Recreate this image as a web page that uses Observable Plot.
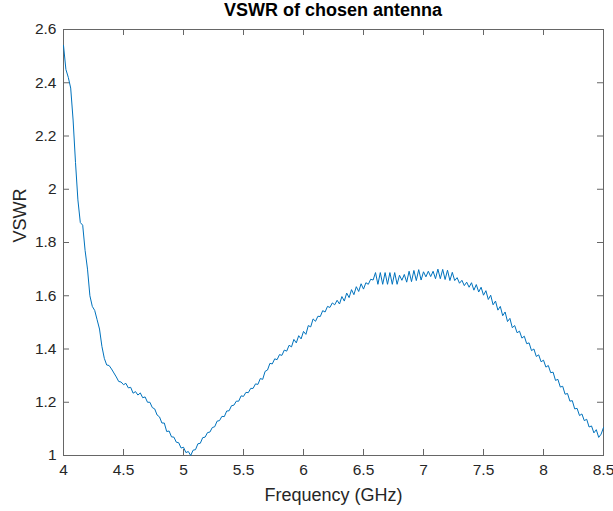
<!DOCTYPE html>
<html>
<head>
<meta charset="utf-8">
<script src="https://cdn.jsdelivr.net/npm/d3@7"></script>
<script src="https://cdn.jsdelivr.net/npm/@observablehq/plot@0.6"></script>
<style>
  body { margin: 0; background: #fff; }
  #wrap { position: relative; width: 613px; height: 511px; }
  #title { position: absolute; left: 0; top: 0; width: 613px; height: 26px; line-height: 26px; font: bold 18px "Liberation Sans", Arial, sans-serif; color: #000; text-align: center; box-sizing: border-box; padding-left: 53px; white-space: nowrap; z-index: 2; }
  #chart svg { display: block; }
</style>
</head>
<body>
<div id="wrap">
<div id="title"></div>
<div id="chart"></div>
</div>
<script>
const titleText = "VSWR of chosen antenna";
const xLabel = "Frequency (GHz)";
const yLabel = "VSWR";
const xTicks = [4, 4.5, 5, 5.5, 6, 6.5, 7, 7.5, 8, 8.5];
const yTicks = [1, 1.2, 1.4, 1.6, 1.8, 2, 2.2, 2.4, 2.6];
const freqStart = 4.0;
const freqStep = 0.02;
const vswr = [
  2.54, 2.45, 2.42, 2.38, 2.26, 2.10, 1.96, 1.875, 1.865, 1.77,
  1.70, 1.60, 1.56, 1.545, 1.51, 1.475, 1.41, 1.365, 1.34, 1.338,
  1.325, 1.31, 1.295, 1.278, 1.276, 1.266, 1.271, 1.254, 1.256, 1.234,
  1.24, 1.227, 1.235, 1.217, 1.22, 1.2, 1.2, 1.18, 1.175, 1.152,
  1.145, 1.122, 1.122, 1.09, 1.092, 1.07, 1.069, 1.05, 1.048, 1.028,
  1.031, 1.011, 1.015, 1.0, 1.02, 1.022, 1.044, 1.046, 1.067, 1.069,
  1.086, 1.088, 1.105, 1.108, 1.129, 1.131, 1.147, 1.146, 1.167, 1.168,
  1.187, 1.189, 1.204, 1.204, 1.224, 1.222, 1.237, 1.236, 1.252, 1.252,
  1.269, 1.267, 1.289, 1.286, 1.316, 1.321, 1.346, 1.344, 1.363, 1.36,
  1.379, 1.376, 1.396, 1.392, 1.414, 1.408, 1.436, 1.423, 1.45, 1.438,
  1.466, 1.455, 1.488, 1.483, 1.513, 1.504, 1.523, 1.522, 1.544, 1.539,
  1.56, 1.556, 1.573, 1.566, 1.583, 1.569, 1.597, 1.58, 1.61, 1.593,
  1.623, 1.604, 1.634, 1.616, 1.645, 1.625, 1.649, 1.643, 1.662, 1.659,
  1.687, 1.643, 1.687, 1.643, 1.687, 1.643, 1.687, 1.643, 1.687, 1.643,
  1.677, 1.658, 1.68, 1.651, 1.692, 1.653, 1.695, 1.657, 1.698, 1.659,
  1.69, 1.671, 1.692, 1.672, 1.692, 1.664, 1.7, 1.664, 1.699, 1.661,
  1.696, 1.657, 1.688, 1.657, 1.668, 1.647, 1.658, 1.638, 1.651, 1.632,
  1.649, 1.621, 1.642, 1.614, 1.632, 1.602, 1.619, 1.586, 1.602, 1.566,
  1.58, 1.546, 1.56, 1.525, 1.539, 1.503, 1.515, 1.48, 1.488, 1.461,
  1.467, 1.441, 1.448, 1.42, 1.423, 1.394, 1.4, 1.372, 1.378, 1.352,
  1.358, 1.332, 1.338, 1.311, 1.313, 1.282, 1.286, 1.257, 1.26, 1.23,
  1.233, 1.204, 1.206, 1.175, 1.177, 1.15, 1.156, 1.131, 1.136, 1.107,
  1.111, 1.085, 1.097, 1.068, 1.08, 1.105
];
const data = vswr.map((v, i) => ({f: +(freqStart + i * freqStep).toFixed(2), v}));

document.getElementById("title").textContent = titleText;

const font = "'Liberation Sans', Arial, sans-serif";
const textCol = "#262626";
const axisCol = "#666";
const tickLen = 6;
const xMin = 4, xMax = 8.5, yMin = 1, yMax = 2.6;

const chart = Plot.plot({
  width: 613,
  height: 511,
  marginTop: 29,
  marginLeft: 63,
  marginRight: 10,
  marginBottom: 56,
  style: {fontFamily: font, fontSize: "15px", color: textCol, background: "transparent"},
  x: {domain: [xMin, xMax]},
  y: {domain: [yMin, yMax]},
  marks: [
    Plot.frame({stroke: axisCol, strokeWidth: 1}),
    // inward ticks on all four sides
    Plot.ruleX(xTicks, {x: d => d, y1: yMin, y2: yMin, insetTop: -tickLen, stroke: axisCol}),
    Plot.ruleX(xTicks, {x: d => d, y1: yMax, y2: yMax, insetBottom: -tickLen, stroke: axisCol}),
    Plot.ruleY(yTicks, {y: d => d, x1: xMin, x2: xMin, insetRight: -tickLen, stroke: axisCol}),
    Plot.ruleY(yTicks, {y: d => d, x1: xMax, x2: xMax, insetLeft: -tickLen, stroke: axisCol}),
    // tick labels
    Plot.axisX({anchor: "bottom", ticks: xTicks, tickSize: 0, tickPadding: 8, tickFormat: d => String(d), label: null, fontSize: 15.5, fill: textCol}),
    Plot.axisY({anchor: "left", ticks: yTicks, tickSize: 0, tickPadding: 7, tickFormat: d => String(d), label: null, fontSize: 15.5, fill: textCol}),
    Plot.line(data, {x: "f", y: "v", stroke: "#0072BD", strokeWidth: 1}),
    Plot.text([xLabel], {frameAnchor: "bottom", dy: 45, fontSize: 18, fill: textCol, text: d => d}),
    Plot.text([yLabel], {frameAnchor: "left", dx: -43, rotate: -90, fontSize: 18, fill: textCol, text: d => d})
  ]
});
document.getElementById("chart").appendChild(chart);
</script>
</body>
</html>
